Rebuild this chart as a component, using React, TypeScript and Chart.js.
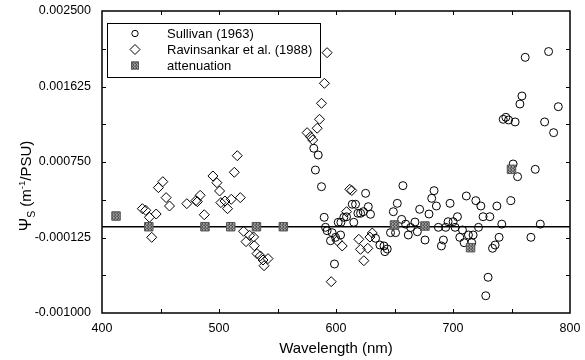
import React, { useEffect, useRef } from "react";
import { Chart, registerables } from "chart.js";

Chart.register(...registerables);

const FONT = "'Liberation Sans', Arial, Helvetica, sans-serif";

// ---- data (wavelength in nm, Psi_S in m^-1/PSU) ----
const sullivanWavelength = [
  581.0, 582.4, 584.8, 587.6, 589.9, 591.0, 592.4, 595.3, 596.7, 598.7, 599.6, 601.9, 603.9, 604.2,
  606.7, 609.0, 613.9, 615.2, 616.7, 618.7, 621.0, 623.3, 625.3, 627.6, 629.5, 633.8, 637.5, 641.0,
  641.8, 643.8, 646.6, 649.0, 650.9, 652.4, 656.1, 657.2, 659.5, 661.8, 663.8, 667.5, 669.5, 671.5,
  676.1, 679.5, 681.8, 683.8, 685.8, 687.5, 690.1, 691.8, 693.8, 695.8, 697.5, 700.1, 701.8, 703.8,
  705.8, 708.1, 709.5, 711.4, 713.2, 716.0, 717.2, 719.5, 721.8, 723.8, 725.7, 728.0, 730.0, 731.5,
  733.8, 736.0, 737.5, 739.4, 741.7, 742.9, 745.2, 747.5, 749.5, 751.4, 753.1, 755.2, 757.2, 758.9,
  761.7, 766.6, 770.3, 774.6, 778.3, 781.7, 786.0, 790.0,
];
const sullivanPsi = [
  0.000909, 0.000657, 0.000831, 0.000464, 0.000109, -0.000007, -0.000046, -0.000162, -0.000069, -0.000432, -0.000123, 0.000051, -0.000096, 0.000051,
  0.000109, 0.000115, 0.00026, 0.000051, 0.00026, 0.000156, 0.000156, 0.000174, 0.000387, 0.000232, 0.000144, -0.000134, -0.000212, -0.000223,
  -0.000289, -0.000258, -0.000069, 0.000174, -0.000069, 0.000271, 0.000085, 0.000476, 0.00003, -0.000096, -0.000009, 0.000054, -0.000058, 0.000202,
  -0.000154, 0.000147, 0.000329, 0.000418, 0.00024, -0.000007, -0.000223, -0.000154, -0.000007, 0.000058, 0.000271, 0.000058, -0.000007, 0.000116,
  -0.000123, -0.000038, -0.000185, 0.000356, -0.000096, -0.000185, -0.000096, 0.000302, -0.000007, 0.00024, 0.000116, -0.0008, -0.000586, 0.000116,
  -0.00025, -0.000212, 0.00024, -0.000123, 0.00003, 0.001245, 0.001268, 0.001237, 0.000302, 0.000727, 0.001214, 0.00058, 0.001422, 0.001515,
  0.001963, -0.000123, 0.000665, 0.00003, 0.001214, 0.00203, 0.00109, 0.001391,
];

const ravinsankarWavelength = [
  434.5, 437.4, 440.5, 442.5, 446.3, 448.2, 452.0, 454.8, 457.7, 472.5, 480.3, 481.5, 483.9, 487.4,
  494.8, 498.2, 500.5, 501.6, 505.1, 507.3, 510.5, 513.1, 515.6, 518.2, 521.0, 523.1, 526.2, 529.6,
  530.2, 532.5, 535.3, 537.6, 538.5, 541.9, 575.3, 578.2, 580.1, 583.9, 585.9, 587.6, 590.1, 592.4,
  595.9, 601.0, 605.3, 609.0, 611.8, 613.5, 619.5, 620.9, 623.8, 627.2, 629.0, 631.0,
];
const ravinsankarPsi = [
  0.000209, 0.00019, 0.000109, -0.000123, 0.000147, 0.000453, 0.000522, 0.000337, 0.00024, 0.000267, 0.000302, 0.00029, 0.000364, 0.000139,
  0.000588, 0.00051, 0.000414, 0.000279, 0.000298, 0.000209, 0.000318, 0.000631, 0.000823, 0.000337, -0.000053, -0.000173, -0.0001, -0.000119,
  -0.00022, -0.000312, -0.000339, -0.000386, -0.000452, -0.00037, 0.00109, 0.001043, 0.001005, 0.001141, 0.001245, 0.00143, 0.001662, 0.002017,
  -0.000637, -0.000162, -0.000223, 0.000174, 0.000434, 0.00042, -0.000146, -0.000262, -0.000394, -0.00025, -0.00012, -0.000073,
];

const attenuationWavelength = [412, 440, 488, 510, 532, 555, 650, 676, 715, 750];
const attenuationPsi = [0.000124, 0.0, 0.0, 0.0, 0.0, 0.0, 0.00002, 0.000008, -0.000243, 0.000665];

const zeroLineWavelength = [400, 800];
const zeroLinePsi = [0, 0];

const xTickValues = [400, 500, 600, 700, 800];
const xMinorTickValues = [450, 500, 550, 600, 650, 700, 750];
const yTickValues = [-0.001, -0.000125, 0.00075, 0.001625, 0.0025];
const yMinorTickValues = [-0.0005625, -0.000125, 0.0003125, 0.00075, 0.0011875, 0.001625, 0.0020625];

const seriesLabels = ["Sullivan (1963)", "Ravinsankar et al. (1988)", "attenuation"];
const xTitle = "Wavelength (nm)";

const toPoints = (xs: number[], ys: number[]) => xs.map((x, i) => ({ x, y: ys[i] }));

function makePattern(): CanvasPattern | string {
  const c = document.createElement("canvas");
  c.width = 3;
  c.height = 3;
  const g = c.getContext("2d");
  if (!g) return "#777";
  const cols = ["#555", "#9a9a9a", "#6a6a6a", "#8a8a8a", "#4a4a4a", "#a5a5a5", "#777", "#5a5a5a", "#909090"];
  cols.forEach((col, i) => {
    g.fillStyle = col;
    g.fillRect(i % 3, Math.floor(i / 3), 1, 1);
  });
  const p = g.createPattern(c, "repeat");
  return p || "#777";
}

const framePlugin = {
  id: "frame",
  afterDatasetsDraw(chart: any) {
    const { ctx, chartArea: a, scales } = chart;
    const xs = scales.x;
    const ys = scales.y;
    ctx.save();
    ctx.strokeStyle = "#000";
    ctx.lineWidth = 1;
    const tl = 4;
    ctx.beginPath();
    xMinorTickValues.forEach((v) => {
      const px = Math.round(xs.getPixelForValue(v)) + 0.5;
      ctx.moveTo(px, a.bottom);
      ctx.lineTo(px, a.bottom - tl);
      ctx.moveTo(px, a.top);
      ctx.lineTo(px, a.top + tl);
    });
    yMinorTickValues.forEach((v) => {
      const py = Math.round(ys.getPixelForValue(v)) + 0.5;
      ctx.moveTo(a.left, py);
      ctx.lineTo(a.left + tl, py);
      ctx.moveTo(a.right, py);
      ctx.lineTo(a.right - tl, py);
    });
    ctx.stroke();
    ctx.lineWidth = 1.5;
    ctx.strokeRect(a.left, a.top, a.right - a.left, a.bottom - a.top);
    ctx.restore();
  },
};

const legendPlugin = {
  id: "customLegend",
  afterDraw(chart: any) {
    const { ctx } = chart;
    const ds = chart.data.datasets;
    ctx.save();
    ctx.strokeStyle = "#000";
    ctx.lineWidth = 1;
    ctx.fillStyle = "#fff";
    ctx.fillRect(107, 23, 213, 54);
    ctx.strokeRect(107.5, 23.5, 213, 54);
    const rows = [33.5, 49.5, 65.5];
    const mx = 135;
    ctx.font = `13px ${FONT}`;
    ctx.textBaseline = "middle";
    ctx.textAlign = "left";
    for (let i = 0; i < 3; i++) {
      const d = ds[i];
      const y = rows[i];
      ctx.lineWidth = 1;
      ctx.strokeStyle = "#000";
      if (d.pointStyle === "circle") {
        ctx.beginPath();
        ctx.arc(mx, y, 3.2, 0, Math.PI * 2);
        ctx.stroke();
      } else if (d.pointStyle === "rectRot") {
        ctx.beginPath();
        ctx.moveTo(mx - 5, y);
        ctx.lineTo(mx, y - 5);
        ctx.lineTo(mx + 5, y);
        ctx.lineTo(mx, y + 5);
        ctx.closePath();
        ctx.stroke();
      } else {
        ctx.fillStyle = d.backgroundColor;
        ctx.fillRect(mx - 4, y - 4, 8, 8);
        ctx.strokeStyle = "#555";
        ctx.strokeRect(mx - 4 + 0.5, y - 4 + 0.5, 7, 7);
      }
      ctx.fillStyle = "#000";
      ctx.fillText(d.label, 167, y + 0.5);
    }
    ctx.restore();
  },
};

const yTitlePlugin = {
  id: "yTitle",
  afterDraw(chart: any) {
    const { ctx } = chart;
    const parts = [
      { t: "\u03A8", size: 16, dy: 0 },
      { t: "S", size: 10.5, dy: 4 },
      { t: " (m", size: 15, dy: 0 },
      { t: "-1", size: 9.5, dy: -6 },
      { t: "/PSU)", size: 15, dy: 0 },
    ];
    ctx.save();
    let total = 0;
    const widths = parts.map((p) => {
      ctx.font = `${p.size}px ${FONT}`;
      const w = ctx.measureText(p.t).width;
      total += w;
      return w;
    });
    ctx.translate(31, 186);
    ctx.rotate(-Math.PI / 2);
    ctx.fillStyle = "#000";
    ctx.textBaseline = "alphabetic";
    ctx.textAlign = "left";
    let x = -total / 2;
    parts.forEach((p, i) => {
      ctx.font = `${p.size}px ${FONT}`;
      ctx.fillText(p.t, x, p.dy);
      x += widths[i];
    });
    ctx.restore();
  },
};

export default function App() {
  const ref = useRef<HTMLCanvasElement | null>(null);

  useEffect(() => {
    const canvas = ref.current;
    if (!canvas) return;
    const pattern = makePattern();
    const chart = new Chart(canvas, {
      type: "scatter",
      data: {
        datasets: [
          {
            label: seriesLabels[0],
            data: toPoints(sullivanWavelength, sullivanPsi),
            pointStyle: "circle",
            pointRadius: 4,
            borderColor: "#000",
            borderWidth: 1,
            backgroundColor: "rgba(0,0,0,0)",
          },
          {
            label: seriesLabels[1],
            data: toPoints(ravinsankarWavelength, ravinsankarPsi),
            pointStyle: "rectRot",
            pointRadius: 5,
            borderColor: "#000",
            borderWidth: 1,
            backgroundColor: "rgba(0,0,0,0)",
          },
          {
            label: seriesLabels[2],
            data: toPoints(attenuationWavelength, attenuationPsi),
            pointStyle: "rect",
            pointRadius: 6,
            borderColor: "#555",
            borderWidth: 1,
            backgroundColor: pattern as any,
            order: -1,
          },
          {
            label: "zero",
            type: "line",
            data: toPoints(zeroLineWavelength, zeroLinePsi),
            showLine: true,
            borderColor: "#000",
            borderWidth: 1.5,
            pointRadius: 0,
            order: 10,
          } as any,
        ],
      },
      options: {
        responsive: false,
        animation: false,
        layout: { padding: { top: 11, right: 15, left: 0, bottom: 0 } },
        plugins: { legend: { display: false }, tooltip: { enabled: false } },
        scales: {
          x: {
            type: "linear",
            min: 400,
            max: 800,
            afterBuildTicks: (s: any) => {
              s.ticks = xTickValues.map((v) => ({ value: v }));
            },
            afterFit: (s: any) => {
              s.height = 47;
              s.paddingLeft = 0;
              s.paddingRight = 0;
            },
            grid: { display: false, drawTicks: false },
            border: { display: false },
            ticks: {
              color: "#000",
              font: { family: FONT, size: 12.5 },
              padding: 8,
              maxRotation: 0,
              autoSkip: false,
              callback: (v: any) => String(v),
            },
            title: {
              display: true,
              text: xTitle,
              color: "#000",
              font: { family: FONT, size: 15 },
              padding: { top: 0, bottom: 2 },
            },
          },
          y: {
            type: "linear",
            min: -0.001,
            max: 0.0025,
            afterBuildTicks: (s: any) => {
              s.ticks = yTickValues.map((v) => ({ value: v }));
            },
            afterFit: (s: any) => {
              s.width = 102;
              s.paddingTop = 0;
              s.paddingBottom = 0;
            },
            grid: { display: false, drawTicks: false },
            border: { display: false },
            ticks: {
              color: "#000",
              font: { family: FONT, size: 12.5 },
              padding: 11,
              autoSkip: false,
              callback: (v: any) => Number(v).toFixed(6),
            },
          },
        },
      },
      plugins: [framePlugin, legendPlugin, yTitlePlugin],
    });
    return () => chart.destroy();
  }, []);

  return (
    <div style={{ position: "fixed", left: 0, top: 0, width: 585, height: 360, background: "#fff" }}>
      <canvas ref={ref} width={585} height={360} style={{ display: "block" }} />
    </div>
  );
}
